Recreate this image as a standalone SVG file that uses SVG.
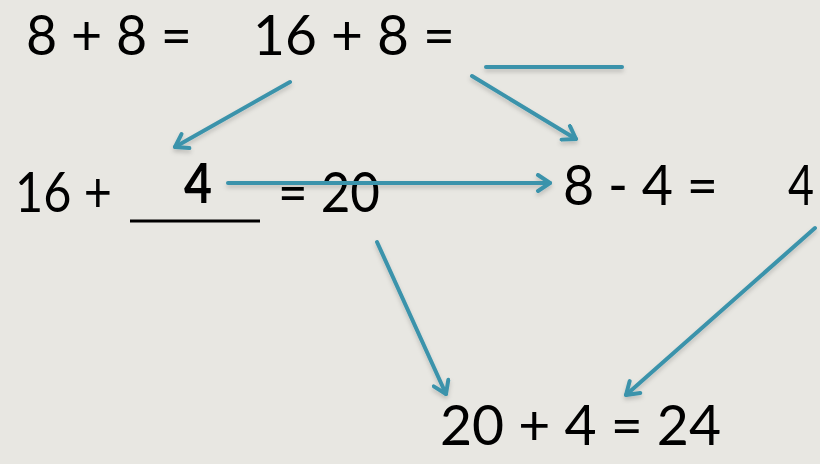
<svg xmlns="http://www.w3.org/2000/svg" width="820" height="464" viewBox="0 0 820 464">
  <style>
    .t { font-family: "Lato", "Open Sans", "Liberation Sans", sans-serif; font-size: 56px; fill: #000; }
    .b { font-weight: bold; }
    .c { stroke: #3b93ab; stroke-width: 4; fill: none; stroke-linecap: round; }
  </style>
  <defs>
    <marker id="arr" viewBox="0 0 20 20" refX="16" refY="10" markerWidth="20" markerHeight="20" markerUnits="userSpaceOnUse" orient="auto">
      <path d="M4,2 L16,10 L4,18" fill="none" stroke="#3b93ab" stroke-width="4" stroke-linecap="round" stroke-linejoin="round"/>
    </marker>
    <filter id="sh" filterUnits="userSpaceOnUse" x="0" y="0" width="820" height="464">
      <feDropShadow dx="0" dy="3" stdDeviation="2" flood-color="#000" flood-opacity="0.18"/>
    </filter>
  </defs>
  <rect width="820" height="464" fill="#e8e7e2"/>

  <g id="eq1"><text class="t" x="26" y="55" textLength="166" lengthAdjust="spacingAndGlyphs">8 + 8 =</text></g>
  <g id="eq2"><text class="t" x="253" y="55" textLength="202" lengthAdjust="spacingAndGlyphs">16 + 8 =</text></g>
  <g id="blank-top"><line class="c" x1="486" y1="67" x2="622" y2="67" stroke-linecap="butt" filter="url(#sh)"/></g>
  <g id="eq3">
    <text class="t" x="15" y="212" textLength="97" lengthAdjust="spacingAndGlyphs">16 +</text>
    <line x1="130" y1="221" x2="260" y2="221" stroke="#000" stroke-width="3"/>
    <text class="t b" x="184" y="203" textLength="28" lengthAdjust="spacingAndGlyphs">4</text>
    <text class="t" x="278" y="212" textLength="102" lengthAdjust="spacingAndGlyphs">= 20</text>
  </g>
  <g id="eq4">
    <text class="t" x="563" y="205" textLength="155" lengthAdjust="spacingAndGlyphs">8 - 4 =</text>
    <text class="t" x="788" y="205" textLength="26" lengthAdjust="spacingAndGlyphs">4</text>
  </g>
  <g id="eq5"><text class="t" x="440" y="445" textLength="281" lengthAdjust="spacingAndGlyphs">20 + 4 = 24</text></g>

  <g id="connectors" filter="url(#sh)">
    <line class="c" x1="290" y1="82" x2="175" y2="147" marker-end="url(#arr)"/>
    <line class="c" x1="472" y1="76" x2="576" y2="139" marker-end="url(#arr)"/>
    <line class="c" x1="228" y1="183" x2="550" y2="183" marker-end="url(#arr)"/>
    <line class="c" x1="377" y1="242" x2="446" y2="394" marker-end="url(#arr)"/>
    <line class="c" x1="815" y1="228" x2="626" y2="395" marker-end="url(#arr)"/>
  </g>
</svg>
